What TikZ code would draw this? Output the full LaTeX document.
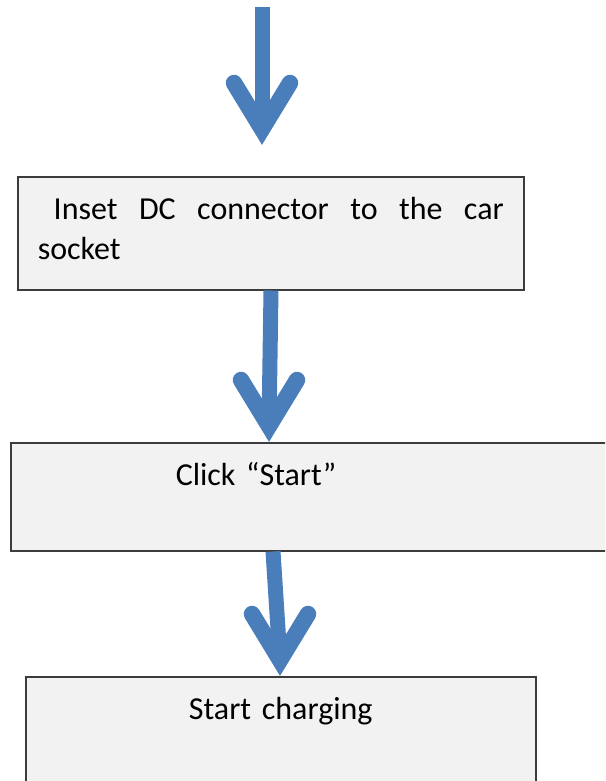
\documentclass[tikz,border=0pt]{standalone}
\usepackage{fontspec}
\setmainfont{Carlito}
\usetikzlibrary{calc, positioning}
\definecolor{flowblue}{RGB}{74,126,187}
\definecolor{boxgray}{RGB}{242,242,242}
\definecolor{boxline}{RGB}{60,60,60}

\begin{document}
\begin{tikzpicture}[x=1pt,y=-1pt,
                    main box/.style={rectangle,draw=boxline,fill=boxgray,line width=1.5pt,inner xsep=0pt,inner ysep=0pt,anchor=north west,font=\fontsize{32}{40}\selectfont},
                    shaft/.style={draw=flowblue,line width=15pt,line cap=butt}, head/.style={draw=flowblue,line width=16.5pt,line cap=round,line join=miter}]

  \useasboundingbox (0,0) rectangle (605,781);
  \clip (0,0) rectangle (605,781);

  \node[main box,text width=466pt,inner xsep=20pt,align=justify,text height=43pt,text depth=70pt] (1) at (17,176) {\hspace*{16pt}Inset DC connector to the car\linebreak socket};
  \node[main box,text width=602pt,align=left,text height=43pt,text depth=65pt] (2) at (10,442) {\hspace*{165pt}Click “Start”};
  \node[main box,text width=510pt,align=center,text height=43pt,text depth=120pt] (3) at (25,676) {Start charging};

  \coordinate (s1) at (262,7);
  \coordinate (t1) at (262,129);
  \coordinate (s2) at ($(1.south west)+(254,0)$);
  \coordinate (t2) at ($(2.north west)+(259,-16)$);
  \coordinate (s3) at ($(2.south west)+(263,0)$);
  \coordinate (t3) at ($(3.north west)+(255,-16)$);

  \foreach \from/\to in {s1/t1, s2/t2, s3/t3} {
    \draw[shaft] (\from) -- (\to);
    \draw[head] ($(\to)+(-28,-46)$) -- (\to) -- ($(\to)+(28,-46)$);
  }

\end{tikzpicture}
\end{document}
